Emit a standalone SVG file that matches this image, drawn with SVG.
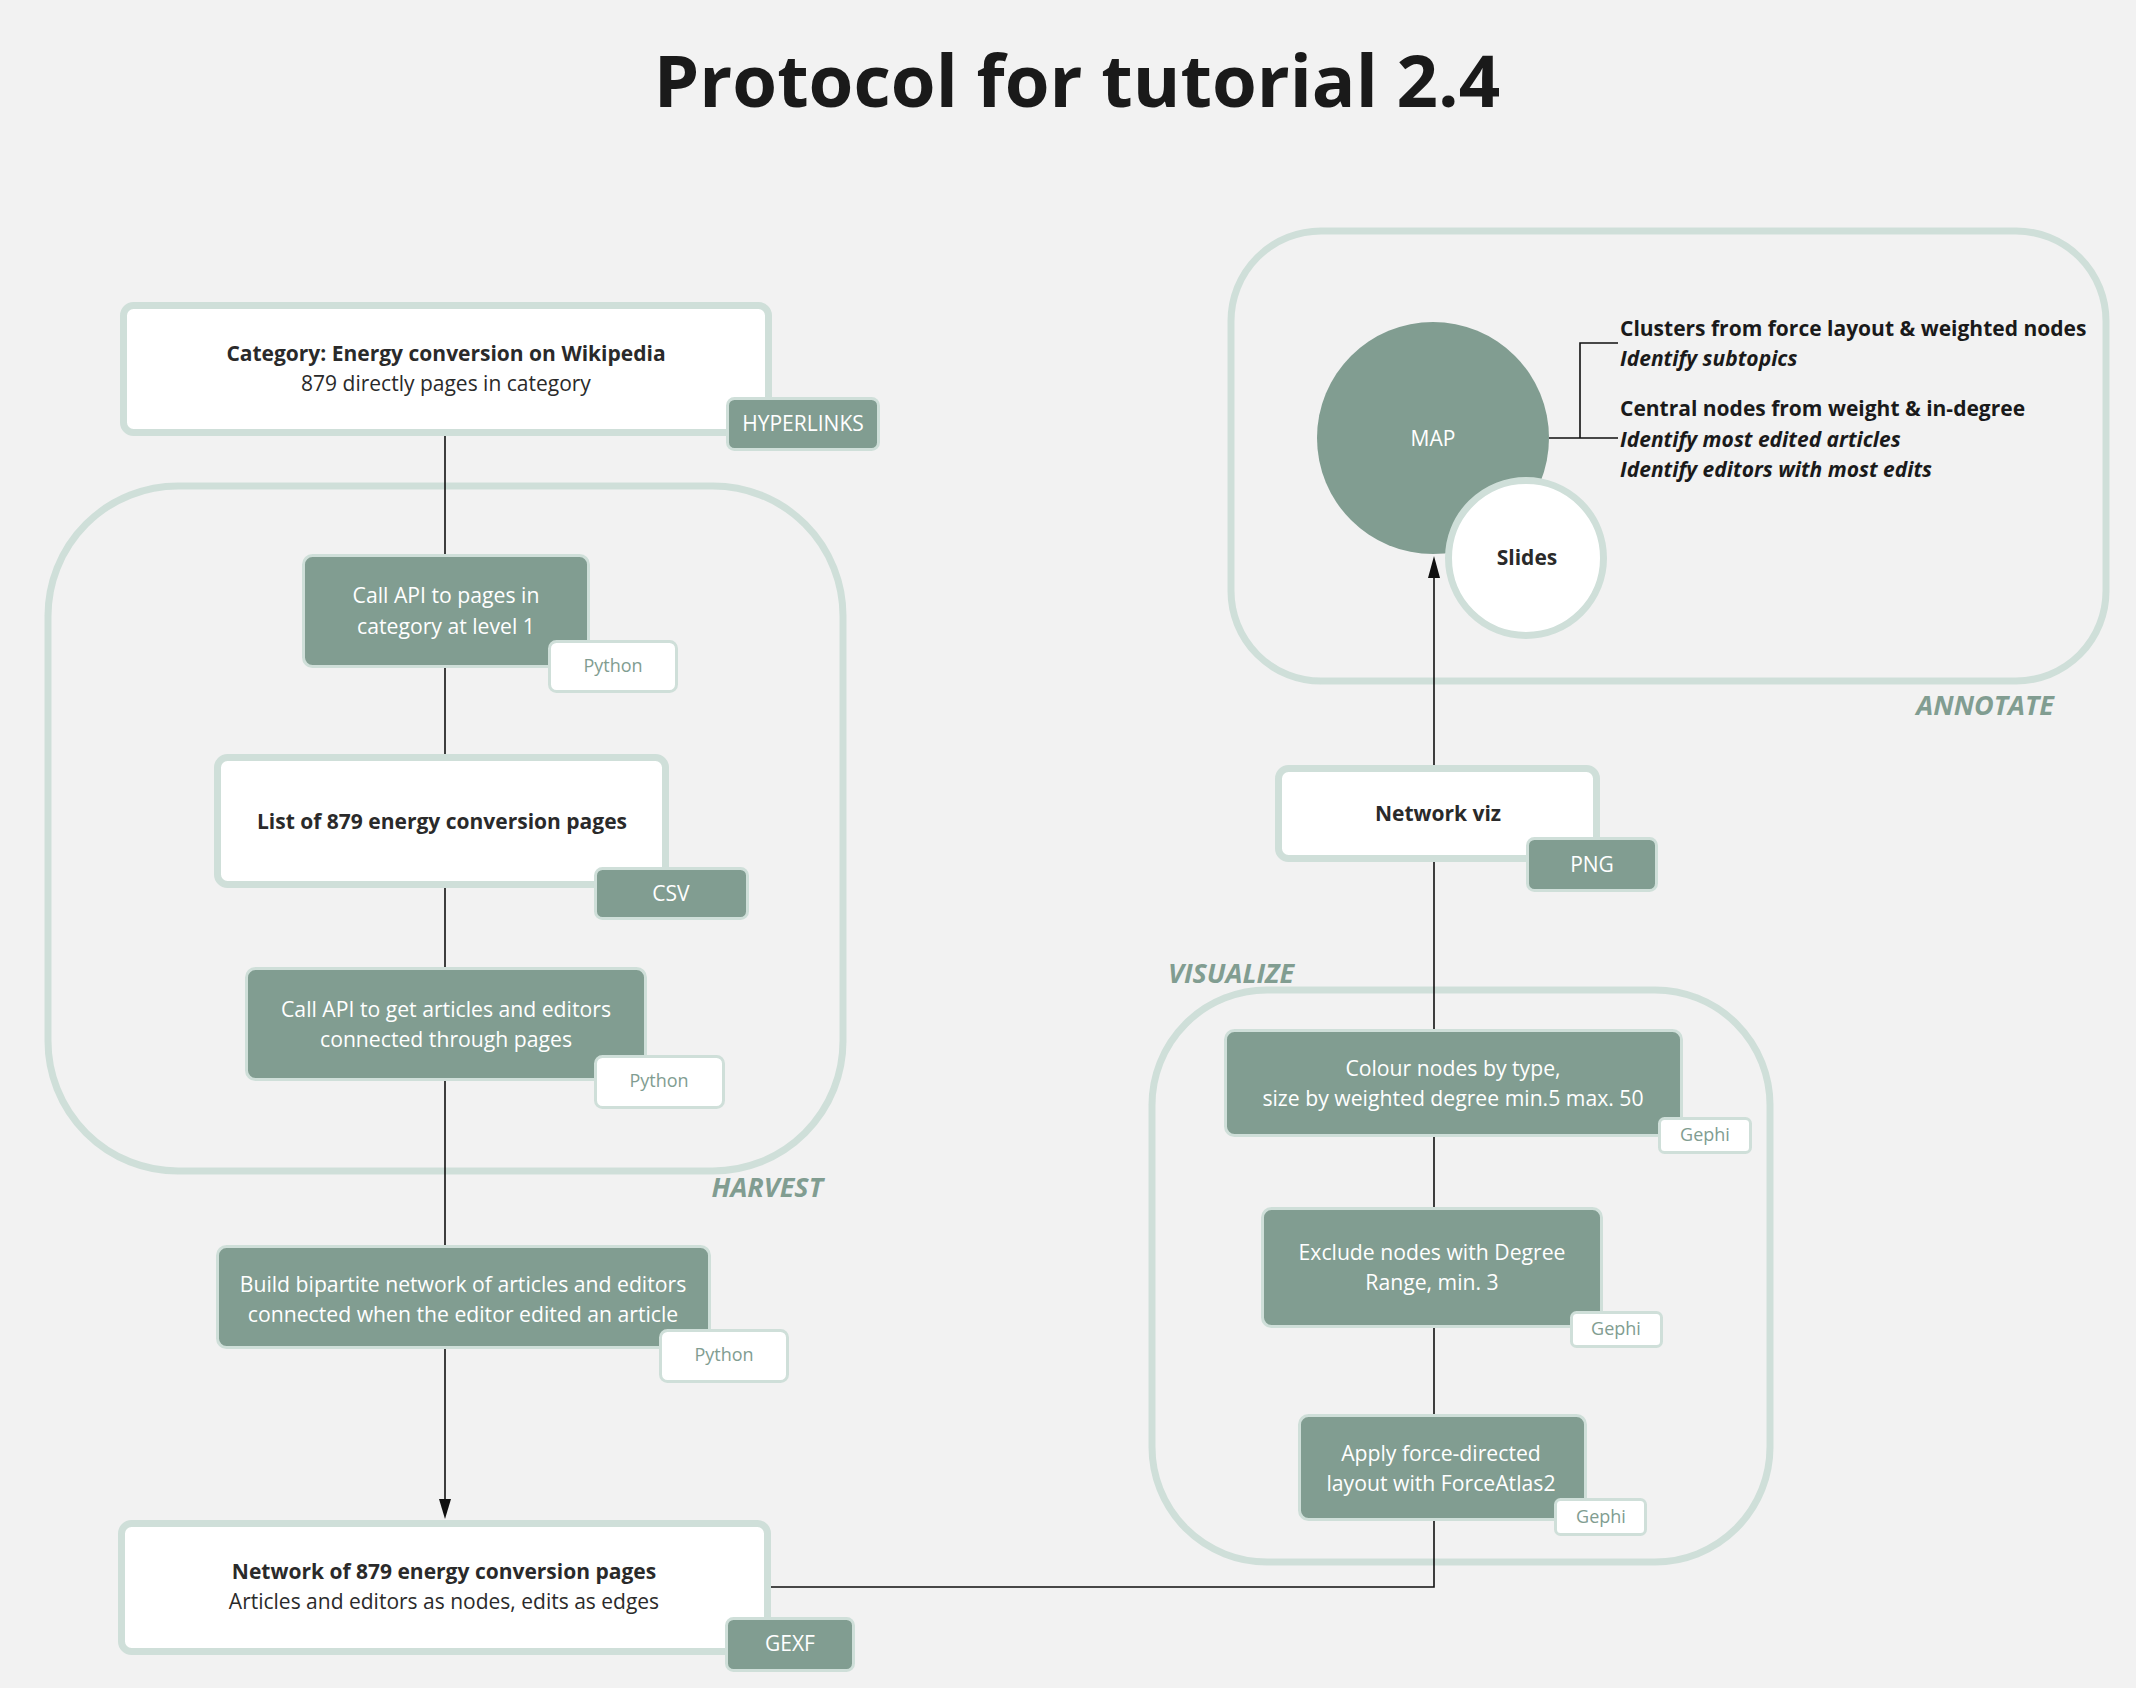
<svg xmlns="http://www.w3.org/2000/svg" width="2136" height="1688" viewBox="0 0 2136 1688">
<defs>
<style>
text{font-family:"Open Sans","Noto Sans","Liberation Sans",sans-serif}
.bg{fill:#f2f2f2}
.cont{fill:none;stroke:#cfdfd9;stroke-width:7}
.wbox{fill:#ffffff;stroke:#cfdfd9;stroke-width:7}
.gbox{fill:#819d91;stroke:#cfdfd9;stroke-width:3}
.gtag{fill:#819d91;stroke:#cfdfd9;stroke-width:3}
.wtag{fill:#ffffff;stroke:#cfdfd9;stroke-width:3}
.t-b{font-size:21px;font-weight:700;fill:#2a2a2a;text-anchor:middle}
.t-r{font-size:21px;font-weight:400;fill:#2a2a2a;text-anchor:middle}
.t-w{font-size:21.2px;font-weight:400;fill:#ffffff;text-anchor:middle}
.t-tag{font-size:21px;font-weight:400;fill:#ffffff;text-anchor:middle}
.t-wtag{font-size:18px;font-weight:400;fill:#819d91;text-anchor:middle}
.t-phase{font-size:27px;font-weight:700;font-style:italic;fill:#819d91}
.t-ann{font-size:21px;font-weight:700;fill:#1a1a1a}
.t-anni{font-size:21px;font-weight:700;font-style:italic;fill:#1a1a1a}
.conn{fill:none;stroke:#111111;stroke-width:1.6}
.head{fill:#111111}
</style>
</defs>
<rect class="bg" x="0" y="0" width="2136" height="1688"/>

<text x="1077" y="107" style="font-size:72.5px;font-weight:700;fill:#1a1a1a;text-anchor:middle">Protocol for tutorial 2.4</text>

<g id="containers">
<g id="harvest">
<rect class="cont" x="48" y="486" width="795" height="685" rx="130" ry="130"/>
<text class="t-phase" x="823" y="1197" text-anchor="end">HARVEST</text>
</g>
<g id="visualize">
<rect class="cont" x="1152" y="990" width="618" height="572" rx="115" ry="115"/>
<text class="t-phase" x="1168" y="983">VISUALIZE</text>
</g>
<g id="annotate">
<rect class="cont" x="1231" y="231" width="875" height="450" rx="90" ry="90"/>
<text class="t-phase" x="2054" y="715" text-anchor="end">ANNOTATE</text>
</g>
</g>

<g id="connectors">
<line class="conn" x1="445" y1="436" x2="445" y2="556"/>
<line class="conn" x1="445" y1="668" x2="445" y2="756"/>
<line class="conn" x1="445" y1="888" x2="445" y2="969"/>
<line class="conn" x1="445" y1="1081" x2="445" y2="1247"/>
<line class="conn" x1="445" y1="1349" x2="445" y2="1500"/>
<path class="head" d="M439,1499 L445,1519 L451,1499 Z"/>
<path class="conn" d="M771,1587 H1434 V578"/>
<path class="head" d="M1428,578 L1434,556 L1440,578 Z"/>
<path class="conn" d="M1549,438 H1618 M1580,438 V343 H1618"/>
</g>

<g id="n-category">
<rect class="wbox" x="123.5" y="305.5" width="645" height="127" rx="10"/>
<text class="t-b" x="446" y="361">Category: Energy conversion on Wikipedia</text>
<text class="t-r" x="446" y="391">879 directly pages in category</text>
<rect class="gtag" x="727.5" y="398.5" width="151" height="51" rx="7"/>
<text class="t-tag" x="803" y="431">HYPERLINKS</text>
</g>

<g id="n-callapi1">
<rect class="gbox" x="303.5" y="555.5" width="285" height="111" rx="9"/>
<text class="t-w" x="446" y="603">Call API to pages in</text>
<text class="t-w" x="446" y="634">category at level 1</text>
<rect class="wtag" x="549.5" y="641.5" width="127" height="50" rx="7"/>
<text class="t-wtag" x="613" y="672">Python</text>
</g>

<g id="n-list">
<rect class="wbox" x="217.5" y="757.5" width="448" height="127" rx="10"/>
<text class="t-b" x="442" y="829">List of 879 energy conversion pages</text>
<rect class="gtag" x="595.5" y="868.5" width="152" height="50" rx="7"/>
<text class="t-tag" x="671" y="901">CSV</text>
</g>

<g id="n-callapi2">
<rect class="gbox" x="246.5" y="968.5" width="399" height="111" rx="9"/>
<text class="t-w" x="446" y="1017">Call API to get articles and editors</text>
<text class="t-w" x="446" y="1047">connected through pages</text>
<rect class="wtag" x="595.5" y="1056.5" width="128" height="51" rx="7"/>
<text class="t-wtag" x="659" y="1087">Python</text>
</g>

<g id="n-build">
<rect class="gbox" x="217.5" y="1246.5" width="492" height="101" rx="9"/>
<text class="t-w" x="463" y="1292">Build bipartite network of articles and editors</text>
<text class="t-w" x="463" y="1322">connected when the editor edited an article</text>
<rect class="wtag" x="660.5" y="1330.5" width="127" height="51" rx="7"/>
<text class="t-wtag" x="724" y="1361">Python</text>
</g>

<g id="n-network">
<rect class="wbox" x="121.5" y="1523.5" width="646" height="128" rx="10"/>
<text class="t-b" x="444" y="1579">Network of 879 energy conversion pages</text>
<text class="t-r" x="444" y="1609">Articles and editors as nodes, edits as edges</text>
<rect class="gtag" x="726.5" y="1618.5" width="127" height="52" rx="7"/>
<text class="t-tag" x="790" y="1651">GEXF</text>
</g>

<g id="n-apply">
<rect class="gbox" x="1299.5" y="1415.5" width="286" height="104" rx="9"/>
<text class="t-w" x="1441" y="1461">Apply force-directed</text>
<text class="t-w" x="1441" y="1491">layout with ForceAtlas2</text>
<rect class="wtag" x="1555.5" y="1499.5" width="90" height="35" rx="5"/>
<text class="t-wtag" x="1601" y="1523">Gephi</text>
</g>

<g id="n-exclude">
<rect class="gbox" x="1262.5" y="1208.5" width="339" height="118" rx="9"/>
<text class="t-w" x="1432" y="1260">Exclude nodes with Degree</text>
<text class="t-w" x="1432" y="1290">Range, min. 3</text>
<rect class="wtag" x="1571.5" y="1312.5" width="90" height="34" rx="5"/>
<text class="t-wtag" x="1616" y="1335">Gephi</text>
</g>

<g id="n-colour">
<rect class="gbox" x="1225.5" y="1030.5" width="456" height="105" rx="9"/>
<text class="t-w" x="1453" y="1076">Colour nodes by type,</text>
<text class="t-w" x="1453" y="1106">size by weighted degree min.5 max. 50</text>
<rect class="wtag" x="1659.5" y="1118.5" width="91" height="34" rx="5"/>
<text class="t-wtag" x="1705" y="1141">Gephi</text>
</g>

<g id="n-networkviz">
<rect class="wbox" x="1278.5" y="768.5" width="318" height="90" rx="10"/>
<text class="t-b" x="1438" y="821">Network viz</text>
<rect class="gtag" x="1527.5" y="838.5" width="129" height="52" rx="7"/>
<text class="t-tag" x="1592" y="872">PNG</text>
</g>

<g id="n-map">
<circle cx="1433" cy="438" r="116" fill="#819d91"/>
<text x="1433" y="446" style="font-size:21px;fill:#ffffff;text-anchor:middle">MAP</text>
</g>

<g id="n-slides">
<circle cx="1526" cy="558" r="77.5" fill="#ffffff" stroke="#cfdfd9" stroke-width="7"/>
<text class="t-b" x="1527" y="565">Slides</text>
</g>

<g id="annotations">
<text class="t-ann" x="1620" y="336">Clusters from force layout &amp; weighted nodes</text>
<text class="t-anni" x="1620" y="366">Identify subtopics</text>
<text class="t-ann" x="1620" y="416">Central nodes from weight &amp; in-degree</text>
<text class="t-anni" x="1620" y="447">Identify most edited articles</text>
<text class="t-anni" x="1620" y="477">Identify editors with most edits</text>
</g>
</svg>
